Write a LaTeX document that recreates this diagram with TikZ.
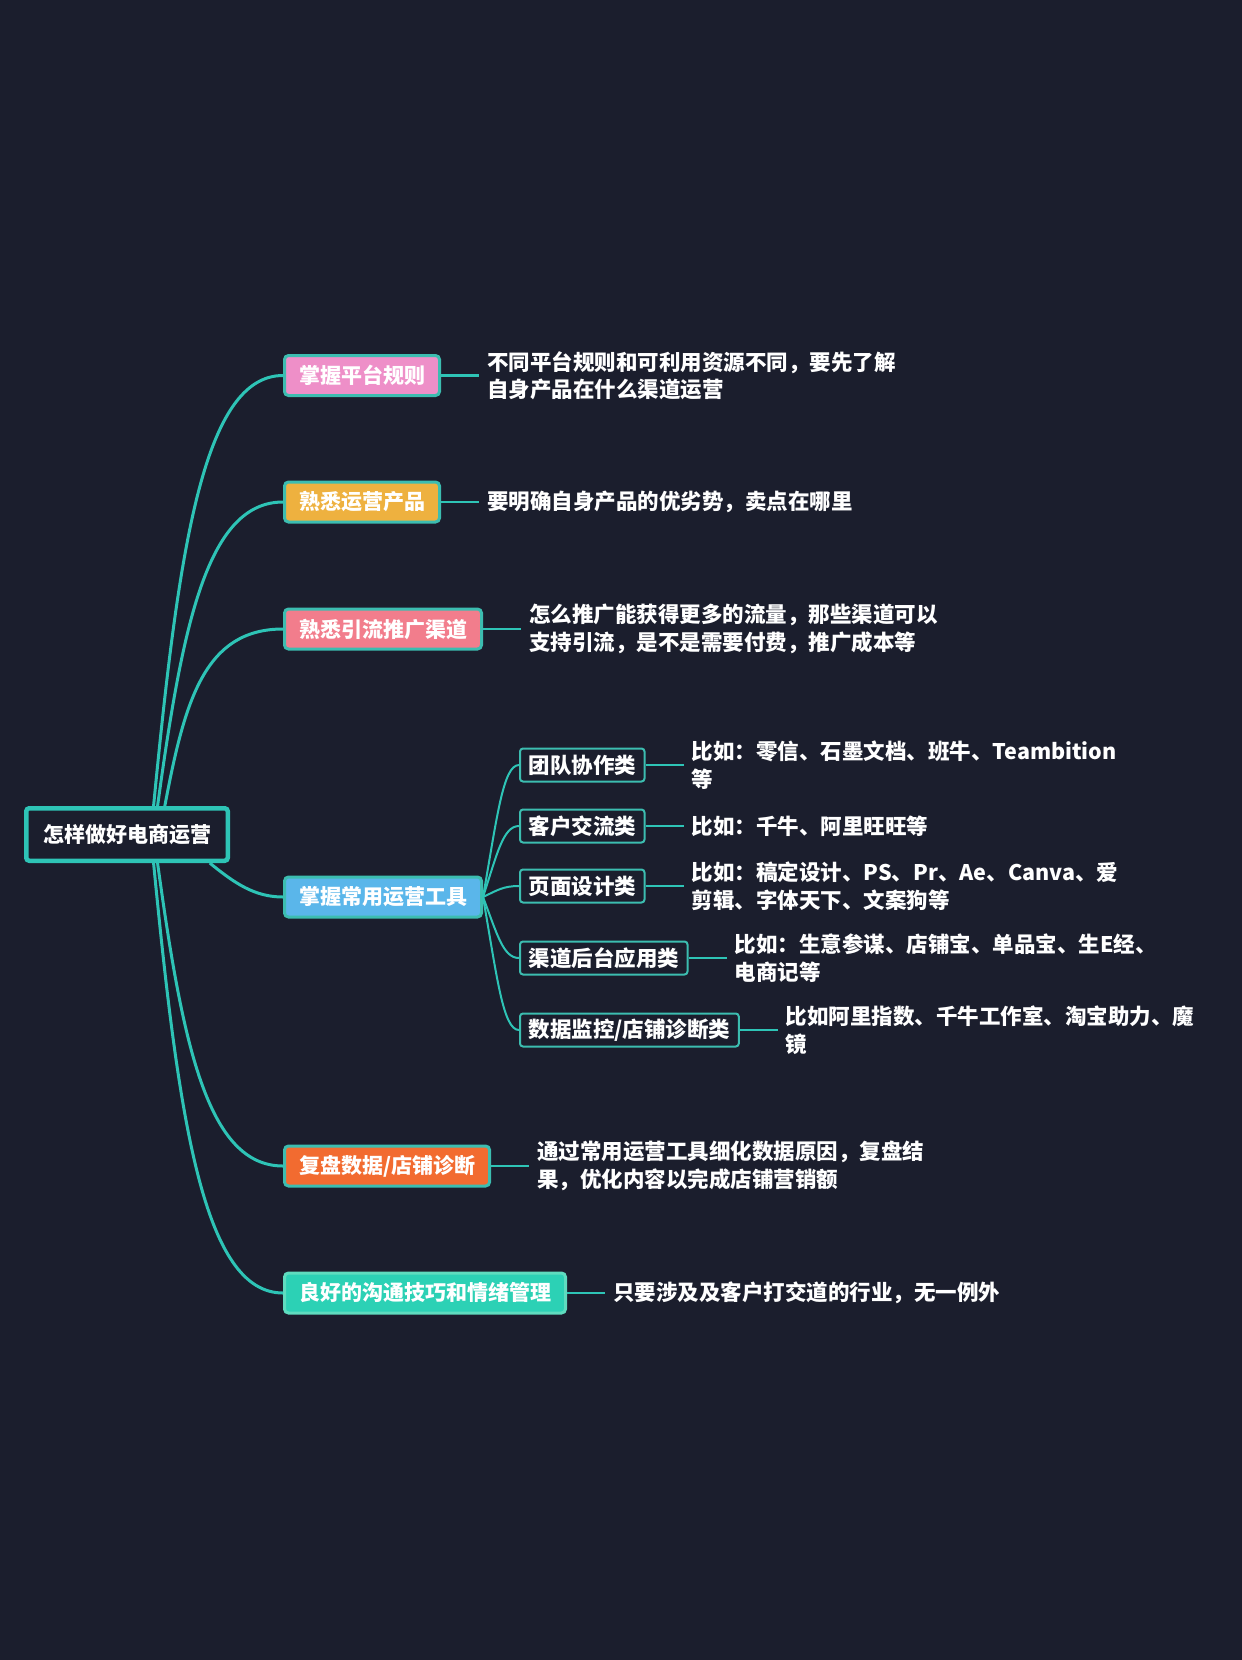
\documentclass[tikz,border=0pt]{standalone}
\usepackage{fontspec}
\setmainfont{Noto Sans CJK SC}
\usetikzlibrary{positioning,calc}

\definecolor{bgnavy}{HTML}{1B1E2D}
\definecolor{twigteal}{HTML}{2EC4B6}
\definecolor{boxrim}{HTML}{3CBDB0}
\definecolor{rulepink}{HTML}{EE8FC8}
\definecolor{prodgold}{HTML}{EEB13F}
\definecolor{flowrose}{HTML}{F27D8C}
\definecolor{toolblue}{HTML}{5AB6EA}
\definecolor{reviewred}{HTML}{F26B30}
\definecolor{talkteal}{HTML}{2CD1B5}
\definecolor{talkrim}{HTML}{5FDCBF}

\begin{document}
\begin{tikzpicture}[x=1pt,y=-1pt,
  every node/.style={font=\fontsize{21.5}{27.5}\selectfont\bfseries,text=white},
  hub/.style={rectangle,draw=twigteal,line width=4.5pt,fill=bgnavy,rounded corners=3pt,
              minimum width=201.5pt,minimum height=52.5pt,inner sep=0pt,
              font=\fontsize{21}{27}\selectfont\bfseries},
  topic/.style={rectangle,draw=boxrim,line width=3pt,rounded corners=4pt,
                minimum height=40pt,inner xsep=14.5pt,inner ysep=0pt,anchor=west,
                font=\fontsize{21}{27}\selectfont\bfseries},
  tool/.style={rectangle,draw=boxrim,line width=2pt,rounded corners=3pt,fill=bgnavy,
               minimum height=33pt,inner xsep=8.5pt,inner ysep=0pt,anchor=west},
  note/.style={align=left,inner xsep=8pt,inner ysep=0pt,right=38pt of #1},
  twig/.style 2 args={to path={let \p1=(\tikztostart),\p2=(\tikztotarget) in
      .. controls (\x1+#1,{\y1+0.6*(\y2-\y1)}) and (\x1+#2,\y2) .. (\tikztotarget)}},
  limb/.style={draw=twigteal,line width=3pt},
  sprig/.style={draw=twigteal,line width=2pt},
  stub/.style={draw=twigteal,line width=2.5pt}]

\fill[bgnavy] (0,0) rectangle (1242,1660);
\useasboundingbox (0,0) rectangle (1242,1660);

\node[hub] (root) at (127,834.5) {怎样做好电商运营};

\node[topic,fill=rulepink] (b1) at (283,375.5) {掌握平台规则};
\node[topic,fill=prodgold] (b2) at (283,502) {熟悉运营产品};
\node[topic,fill=flowrose] (b3) at (283,629) {熟悉引流推广渠道};
\node[topic,fill=toolblue] (b4) at (283,897) {掌握常用运营工具};
\node[topic,fill=reviewred] (b5) at (283,1166) {复盘数据/店铺诊断};
\node[topic,fill=talkteal,draw=talkrim] (b6) at (283,1293) {良好的沟通技巧和情绪管理};

\node[tool] (t1) at (519,765) {团队协作类};
\node[tool] (t2) at (519,826) {客户交流类};
\node[tool] (t3) at (519,886) {页面设计类};
\node[tool] (t4) at (519,958) {渠道后台应用类};
\node[tool] (t5) at (519,1030) {数据监控/店铺诊断类};

\node[note=b1] (n1) {不同平台规则和可利用资源不同，要先了解\\自身产品在什么渠道运营};
\node[note=b2] (n2) {要明确自身产品的优劣势，卖点在哪里};
\node[note=b3] (n3) {怎么推广能获得更多的流量，那些渠道可以\\支持引流，是不是需要付费，推广成本等};
\node[note=b5] (n5) {通过常用运营工具细化数据原因，复盘结\\果，优化内容以完成店铺营销额};
\node[note=b6] (n6) {只要涉及及客户打交道的行业，无一例外};

\node[note=t1] (m1) {比如：零信、石墨文档、班牛、Teambition\\等};
\node[note=t2] (m2) {比如：千牛、阿里旺旺等};
\node[note=t3] (m3) {比如：稿定设计、PS、Pr、Ae、Canva、爱\\剪辑、字体天下、文案狗等};
\node[note=t4] (m4) {比如：生意参谋、店铺宝、单品宝、生E经、\\电商记等};
\node[note=t5] (m5) {比如阿里指数、千牛工作室、淘宝助力、魔\\镜};

\draw[limb] (root.47) to[twig={25pt}{50pt}] (b1.west);
\draw[limb] (root.43) to[twig={25pt}{50pt}] (b2.west);
\draw[limb] (root.37) to[twig={20pt}{40pt}] (b3.west);
\draw[limb] (root.-19) to[twig={25pt}{45pt}] (b4.west);
\draw[limb] (root.-43) to[twig={25pt}{50pt}] (b5.west);
\draw[limb] (root.-47) to[twig={25pt}{50pt}] (b6.west);

\foreach \k in {1,...,5}
  \draw[sprig] (b4.east) to[twig={14pt}{20pt}] (t\k.west);

\draw[stub] (b1.east) -- (n1.west);
\draw[stub] (b2.east) -- (n2.west);
\draw[stub] (b3.east) -- (n3.west);
\draw[stub] (b5.east) -- (n5.west);
\draw[stub] (b6.east) -- (n6.west);
\foreach \k in {1,...,5}
  \draw[stub] (t\k.east) -- (m\k.west);
\end{tikzpicture}
\end{document}
